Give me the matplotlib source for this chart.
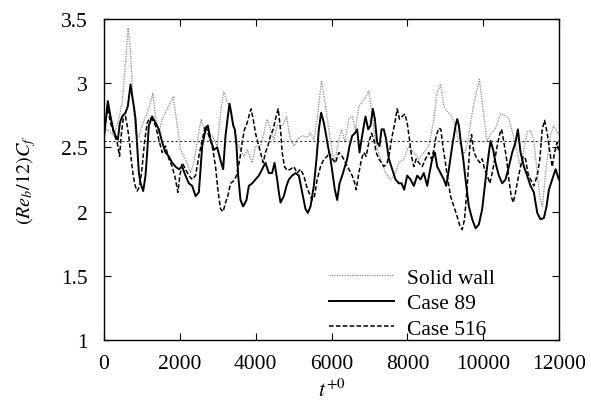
import matplotlib
matplotlib.use("Agg")
import matplotlib.pyplot as plt

# time axis samples (t^{+0}) and skin-friction values
SOLID_T = [0, 84, 259, 391, 479, 567, 637, 699, 760, 831, 919, 1006, 1138, 1226, 1288,
           1358, 1446, 1534, 1666, 1824, 1930, 2017, 2149, 2281, 2369, 2457, 2562, 2633,
           2721, 2853, 2984, 3090, 3160, 3291, 3423, 3511, 3599, 3687, 3775, 3907, 3995,
           4127, 4214, 4302, 4390, 4478, 4566, 4698, 4812, 4918, 5006, 5093, 5225, 5357,
           5445, 5533, 5621, 5735, 5841, 5929, 6017, 6087, 6175, 6263, 6351, 6456, 6544,
           6632, 6720, 6808, 6896, 6984, 7072, 7160, 7291, 7423, 7555, 7687, 7775, 7907,
           8039, 8170, 8302, 8434, 8566, 8698, 8786, 8874, 8961, 9050, 9150, 9250, 9350,
           9420, 9500, 9577, 9700, 9796, 9900, 10000, 10100, 10192, 10324, 10456, 10560,
           10680, 10800, 10900, 10983, 11080, 11159, 11250, 11335, 11423, 11500, 11560,
           11643, 11775, 11862, 11950, 12000]
SOLID_CF = [2.60, 2.64, 2.59, 2.72, 2.85, 3.16, 3.43, 3.24, 2.87, 2.61, 2.58, 2.67, 2.77,
            2.85, 2.92, 2.74, 2.61, 2.72, 2.80, 2.89, 2.67, 2.48, 2.41, 2.30, 2.38, 2.54,
            2.72, 2.64, 2.61, 2.59, 2.51, 2.81, 2.93, 2.82, 2.67, 2.54, 2.48, 2.43, 2.48,
            2.38, 2.51, 2.51, 2.61, 2.72, 2.64, 2.56, 2.67, 2.67, 2.74, 2.56, 2.51, 2.56,
            2.59, 2.58, 2.61, 2.56, 2.72, 3.02, 2.82, 2.64, 2.46, 2.38, 2.54, 2.64, 2.54,
            2.72, 2.74, 2.64, 2.82, 2.85, 2.89, 2.94, 2.75, 2.54, 2.41, 2.30, 2.25, 2.30,
            2.38, 2.41, 2.51, 2.46, 2.41, 2.46, 2.51, 2.72, 2.93, 2.99, 2.82, 2.78, 2.75,
            2.68, 2.55, 2.50, 2.45, 2.52, 2.75, 2.90, 3.03, 2.78, 2.55, 2.60, 2.65, 2.76,
            2.75, 2.72, 2.58, 2.45, 2.35, 2.50, 2.62, 2.63, 2.55, 2.30, 2.10, 2.04, 2.30,
            2.60, 2.67, 2.62, 2.60]

CASE89_T = [0, 101, 171, 242, 303, 365, 418, 479, 567, 628, 699, 743, 787, 831, 875, 919,
            963, 1033, 1094, 1138, 1182, 1270, 1358, 1446, 1534, 1622, 1710, 1798, 1886,
            1974, 2061, 2149, 2237, 2325, 2413, 2501, 2589, 2677, 2738, 2809, 2897, 2984,
            3072, 3142, 3204, 3265, 3309, 3353, 3406, 3450, 3494, 3538, 3599, 3669, 3757,
            3819, 3907, 3995, 4083, 4170, 4258, 4346, 4434, 4496, 4566, 4610, 4654, 4742,
            4812, 4874, 4962, 5049, 5137, 5225, 5313, 5375, 5445, 5533, 5603, 5665, 5726,
            5797, 5841, 5911, 5973, 6034, 6087, 6149, 6210, 6281, 6351, 6412, 6474, 6544,
            6615, 6676, 6738, 6790, 6852, 6896, 6966, 7028, 7089, 7142, 7203, 7265, 7318,
            7379, 7441, 7511, 7599, 7687, 7775, 7845, 7915, 7995, 8083, 8170, 8258, 8346,
            8434, 8522, 8583, 8654, 8724, 8786, 8874, 8961, 9023, 9094, 9182, 9270, 9314,
            9357, 9401, 9472, 9533, 9621, 9709, 9797, 9885, 9973, 10061, 10149, 10193,
            10263, 10324, 10412, 10500, 10588, 10676, 10764, 10852, 10913, 10984, 11072,
            11159, 11247, 11335, 11423, 11511, 11599, 11669, 11731, 11819, 11907, 11994]
CASE89_CF = [2.58, 2.86, 2.74, 2.64, 2.59, 2.56, 2.69, 2.74, 2.77, 2.82, 2.99, 2.90, 2.82,
             2.72, 2.51, 2.30, 2.22, 2.16, 2.28, 2.46, 2.67, 2.74, 2.69, 2.64, 2.54, 2.46,
             2.43, 2.38, 2.35, 2.33, 2.35, 2.28, 2.22, 2.20, 2.12, 2.15, 2.51, 2.64, 2.67,
             2.56, 2.48, 2.50, 2.40, 2.33, 2.59, 2.74, 2.84, 2.77, 2.67, 2.64, 2.51, 2.28,
             2.09, 2.04, 2.09, 2.20, 2.22, 2.25, 2.28, 2.33, 2.38, 2.30, 2.30, 2.38, 2.25,
             2.15, 2.07, 2.12, 2.20, 2.25, 2.28, 2.30, 2.28, 2.15, 2.02, 1.99, 2.04, 2.20,
             2.41, 2.64, 2.77, 2.69, 2.62, 2.50, 2.41, 2.28, 2.17, 2.09, 2.22, 2.28, 2.35,
             2.41, 2.51, 2.59, 2.61, 2.64, 2.46, 2.56, 2.67, 2.74, 2.64, 2.67, 2.80, 2.72,
             2.54, 2.51, 2.64, 2.64, 2.56, 2.41, 2.33, 2.25, 2.22, 2.22, 2.17, 2.28, 2.25,
             2.20, 2.28, 2.25, 2.30, 2.20, 2.30, 2.41, 2.46, 2.35, 2.30, 2.25, 2.20, 2.33,
             2.51, 2.67, 2.72, 2.67, 2.56, 2.41, 2.25, 2.04, 1.94, 1.87, 1.90, 2.02, 2.25,
             2.46, 2.55, 2.48, 2.38, 2.28, 2.22, 2.25, 2.35, 2.46, 2.54, 2.64, 2.46, 2.35,
             2.28, 2.20, 2.15, 1.99, 1.94, 1.95, 2.04, 2.17, 2.25, 2.33, 2.25]

CASE516_T = [0, 40, 101, 171, 259, 347, 409, 453, 505, 567, 611, 664, 716, 769, 822, 875,
             945, 1006, 1068, 1138, 1209, 1270, 1358, 1446, 1534, 1622, 1710, 1798, 1886,
             1947, 2000, 2061, 2149, 2237, 2325, 2413, 2501, 2589, 2677, 2765, 2853, 2941,
             3002, 3072, 3142, 3204, 3265, 3335, 3423, 3494, 3582, 3643, 3705, 3775, 3845,
             3880, 3933, 3995, 4056, 4127, 4197, 4258, 4320, 4390, 4461, 4522, 4592, 4654,
             4698, 4759, 4830, 4918, 5006, 5093, 5181, 5269, 5339, 5401, 5489, 5550, 5621,
             5709, 5797, 5885, 5929, 6017, 6105, 6193, 6281, 6368, 6456, 6544, 6615, 6650,
             6720, 6790, 6852, 6913, 6984, 7054, 7116, 7177, 7247, 7318, 7379, 7467, 7529,
             7599, 7669, 7731, 7792, 7863, 7933, 7995, 8056, 8109, 8170, 8232, 8302, 8390,
             8478, 8566, 8636, 8698, 8759, 8830, 8882, 8935, 8988, 9050, 9138, 9226, 9314,
             9384, 9445, 9507, 9577, 9648, 9691, 9753, 9841, 9911, 9973, 10034, 10105,
             10175, 10236, 10307, 10368, 10439, 10483, 10544, 10615, 10676, 10738, 10790,
             10852, 10913, 10984, 11054, 11115, 11177, 11247, 11335, 11423, 11494, 11555,
             11617, 11687, 11757, 11819, 11880, 11950, 11994]
CASE516_CF = [2.59, 2.72, 2.80, 2.69, 2.61, 2.54, 2.43, 2.59, 2.72, 2.74, 2.67, 2.56, 2.41,
              2.28, 2.20, 2.16, 2.20, 2.35, 2.54, 2.69, 2.73, 2.72, 2.67, 2.56, 2.46, 2.51,
              2.41, 2.35, 2.25, 2.15, 2.28, 2.38, 2.33, 2.28, 2.25, 2.28, 2.43, 2.56, 2.67,
              2.59, 2.51, 2.35, 2.17, 2.02, 2.00, 2.07, 2.12, 2.22, 2.24, 2.28, 2.41, 2.54,
              2.64, 2.69, 2.77, 2.80, 2.72, 2.61, 2.54, 2.46, 2.38, 2.46, 2.51, 2.59, 2.64,
              2.72, 2.80, 2.64, 2.46, 2.35, 2.32, 2.33, 2.35, 2.30, 2.33, 2.28, 2.20, 2.15,
              2.09, 2.12, 2.25, 2.35, 2.41, 2.43, 2.46, 2.41, 2.38, 2.46, 2.43, 2.38, 2.33,
              2.28, 2.22, 2.17, 2.30, 2.41, 2.46, 2.43, 2.54, 2.61, 2.56, 2.46, 2.41, 2.38,
              2.35, 2.38, 2.46, 2.59, 2.69, 2.80, 2.72, 2.74, 2.76, 2.69, 2.56, 2.43, 2.35,
              2.41, 2.38, 2.35, 2.41, 2.46, 2.41, 2.48, 2.59, 2.65, 2.64, 2.51, 2.41, 2.28,
              2.12, 2.04, 1.96, 1.89, 1.86, 1.94, 2.20, 2.51, 2.60, 2.46, 2.41, 2.38, 2.41,
              2.33, 2.28, 2.22, 2.30, 2.41, 2.51, 2.61, 2.64, 2.54, 2.41, 2.25, 2.12, 2.07,
              2.15, 2.25, 2.35, 2.43, 2.41, 2.30, 2.25, 2.20, 2.28, 2.41, 2.64, 2.71, 2.61,
              2.46, 2.35, 2.46, 2.54, 2.46]

MEAN_CF = 2.55

plt.rcParams["font.family"] = "Liberation Serif"
plt.rcParams["mathtext.fontset"] = "stix"

fig = plt.figure(figsize=(5.91, 4.06), dpi=100)
ax = fig.add_axes([0.176, 0.160, 0.770, 0.791])

ax.plot(SOLID_T, SOLID_CF, color="#8a8a8a", linestyle=(0, (1, 1)), linewidth=0.9,
        label="Solid wall")
ax.plot(CASE89_T, CASE89_CF, color="black", linestyle="-", linewidth=1.4,
        label="Case 89")
ax.plot(CASE516_T, CASE516_CF, color="black", linestyle=(0, (3, 1.5)), linewidth=1.1,
        label="Case 516")
ax.axhline(MEAN_CF, color="#333333", linestyle=(0, (2, 2)), linewidth=0.8)

ax.set_xlim(0, 12000)
ax.set_ylim(1, 3.5)
ax.set_xticks(range(0, 12001, 2000))
ax.set_yticks([1, 1.5, 2, 2.5, 3, 3.5])
ax.set_yticklabels(["1", "1.5", "2", "2.5", "3", "3.5"])
ax.tick_params(direction="in", length=5, width=0.8, top=True, right=True,
               labelsize=15.5)
ax.tick_params(axis="x", pad=10)
ax.tick_params(axis="y", pad=12)
for spine in ax.spines.values():
    spine.set_linewidth(1.0)

ax.set_xlabel(r"$t^{+0}$", fontsize=15.5, labelpad=4)
ax.set_ylabel(r"$(Re_b/12)C_f$", fontsize=14.5, labelpad=16)

ax.legend(loc="lower left", bbox_to_anchor=(0.457, -0.05), frameon=False,
          fontsize=15.5, handlelength=3.0, handletextpad=0.6, labelspacing=0.25,
          borderpad=0.3)

fig.savefig("out.png", dpi=100)
